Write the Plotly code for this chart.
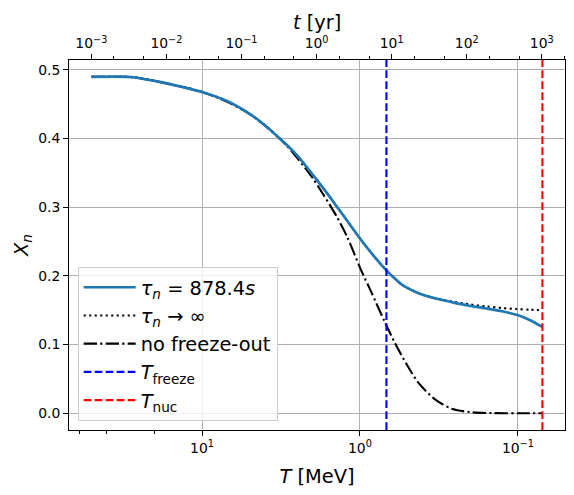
import plotly.graph_objects as go

# ---- data ----
T_n = [50, 30, 26.5, 20, 15, 10, 7, 5, 4, 3.25, 2.51, 2.0, 1.585, 1.413, 1.26, 1.0, 0.794,
       0.68, 0.631, 0.537, 0.422, 0.33, 0.259, 0.203, 0.158, 0.126, 0.1007, 0.0836, 0.07]
X_blue = [0.49, 0.49, 0.489, 0.484, 0.478, 0.468, 0.455, 0.436, 0.4195, 0.401, 0.376, 0.348,
          0.318, 0.302, 0.2865, 0.2545, 0.2255, 0.208, 0.2005, 0.1865, 0.1745, 0.167, 0.1615,
          0.1565, 0.1525, 0.1485, 0.143, 0.1355, 0.1256]
X_inf = [0.49, 0.49, 0.489, 0.484, 0.478, 0.468, 0.455, 0.436, 0.4195, 0.401, 0.376, 0.348,
         0.318, 0.302, 0.2865, 0.2545, 0.2255, 0.208, 0.2005, 0.1865, 0.1745, 0.167, 0.1625,
         0.1585, 0.1555, 0.1532, 0.1516, 0.1507, 0.150]

T_eq = [50, 30, 26.5, 20, 15, 10, 7, 5, 4, 3, 2.5, 2, 1.7, 1.4, 1.2, 1.0, 0.85, 0.7, 0.6,
        0.5, 0.422, 0.33, 0.259, 0.2, 0.15, 0.12, 0.1, 0.085, 0.07]
X_eq = [0.49, 0.49, 0.489, 0.484, 0.478, 0.468, 0.454, 0.436, 0.419, 0.393, 0.372, 0.343,
        0.318, 0.286, 0.256, 0.212, 0.177, 0.134, 0.102, 0.069, 0.043, 0.019, 0.006, 0.0015,
        0.0002, 0.0, 0.0, 0.0, 0.0]

T_freeze = 0.68
T_nuc = 0.07

x_tickvals = [10, 1, 0.1]
x_ticktext = ["10<sup>1</sup>", "10<sup>0</sup>", "10<sup>\u22121</sup>"]
t_tickvals = [1e-3, 1e-2, 1e-1, 1, 10, 100, 1000]
t_ticktext = ["10<sup>\u22123</sup>", "10<sup>\u22122</sup>", "10<sup>\u22121</sup>",
              "10<sup>0</sup>", "10<sup>1</sup>", "10<sup>2</sup>", "10<sup>3</sup>"]
y_tickvals = [0.0, 0.1, 0.2, 0.3, 0.4, 0.5]

FONT = "DejaVu Sans"
fig = go.Figure()

fig.add_trace(go.Scatter(x=T_n, y=X_inf, mode="lines", line_shape="spline",
                         line=dict(color="black", width=2.1, dash="2.1px,3.4px", smoothing=0.8),
                         name="<i>\u03c4<sub>n</sub></i> \u2192 \u221e", legendrank=2))
fig.add_trace(go.Scatter(x=T_eq, y=X_eq, mode="lines", line_shape="spline",
                         line=dict(color="black", width=2.1, dash="13.3px,3.3px,2.1px,3.3px",
                                   smoothing=0.8),
                         name="no freeze-out", legendrank=3))
fig.add_trace(go.Scatter(x=T_n, y=X_blue, mode="lines", line_shape="spline",
                         line=dict(color="#1f77b4", width=2.7, smoothing=0.8),
                         name="<i>\u03c4<sub>n</sub></i> = 878.4<i>s</i>", legendrank=1))
# empty trace so the top (time) axis is drawn
fig.add_trace(go.Scatter(x=t_tickvals, y=[None] * len(t_tickvals), xaxis="x2",
                         mode="lines", showlegend=False, hoverinfo="skip"))

fig.add_shape(type="line", xref="x", yref="y domain", x0=T_freeze, x1=T_freeze, y0=0, y1=1,
              line=dict(color="blue", width=2.1, dash="7.7px,3.3px"),
              showlegend=True, name="<i>T</i><sub>freeze</sub>", legendrank=4)
fig.add_shape(type="line", xref="x", yref="y domain", x0=T_nuc, x1=T_nuc, y0=0, y1=1,
              line=dict(color="red", width=2.1, dash="7.7px,3.3px"),
              showlegend=True, name="<i>T</i><sub>nuc</sub>", legendrank=5)

# top-axis title
fig.add_annotation(text="<i>t</i> [yr]", xref="paper", yref="paper", x=0.5, y=1.1,
                   xanchor="center", yanchor="middle", showarrow=False,
                   font=dict(family=FONT, size=19.4, color="black"))

axis_common = dict(showline=True, linecolor="black", linewidth=1.1, automargin=False,
                   ticks="outside", ticklen=4.9, tickwidth=1.1, tickcolor="black",
                   tickfont=dict(family=FONT, size=13.9, color="black"))
minor_ticks = dict(ticks="outside", ticklen=2.8, tickwidth=0.8, tickcolor="black", showgrid=False)

fig.update_layout(
    width=574, height=495,
    margin=dict(l=69, r=9, t=60, b=65),
    paper_bgcolor="white", plot_bgcolor="white",
    font=dict(family=FONT, color="black"),
    xaxis=dict(type="log", range=[1.842, -1.298], mirror=True,
               tickvals=x_tickvals, ticktext=x_ticktext,
               showgrid=True, gridcolor="#b0b0b0", gridwidth=1.1,
               minor=minor_ticks,
               title=dict(text="<i>T</i> [MeV]", font=dict(family=FONT, size=19.4), standoff=14),
               **axis_common),
    xaxis2=dict(type="log", range=[-3.298, 3.309], overlaying="x", side="top", anchor="y",
                tickvals=t_tickvals, ticktext=t_ticktext, showgrid=False,
                minor=minor_ticks,
                **axis_common),
    yaxis=dict(range=[-0.0245, 0.5145], mirror=True, tickvals=y_tickvals, tickformat=".1f",
               showgrid=True, gridcolor="#b0b0b0", gridwidth=1.1, zeroline=False,
               title=dict(text="<i>X<sub>n</sub></i>", font=dict(family=FONT, size=19.4), standoff=4),
               **axis_common),
    legend=dict(x=0.0175, y=0.024, xanchor="left", yanchor="bottom",
                bgcolor="rgba(255,255,255,0.8)", bordercolor="#cccccc", borderwidth=1,
                font=dict(family=FONT, size=19.4, color="black"),
                tracegroupgap=0, itemwidth=52),
    showlegend=True,
)

fig.write_html("out.html", config={"displayModeBar": False},
               post_script="document.body.style.margin='0';")
